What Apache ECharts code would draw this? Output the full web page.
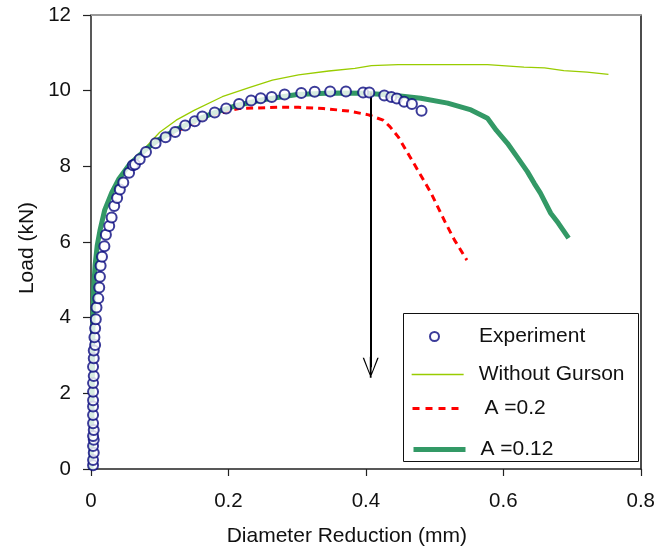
<!DOCTYPE html>
<html>
<head>
<meta charset="utf-8">
<script src="https://cdn.jsdelivr.net/npm/echarts@6/dist/echarts.min.js"></script>
<style>html,body{margin:0;padding:0;background:#fff}#c{width:658px;height:553px}</style>
</head>
<body>
<div id="c"></div>
<script>
// ---- data ----
const xTicks = [0, 0.2, 0.4, 0.6, 0.8];
const yTicks = [0, 2, 4, 6, 8, 10, 12];

const expX = [0.003,0.003,0.004,0.003,0.004,0.003,0.004,0.003,0.003,0.003,0.003,0.003,0.003,0.004,0.003,0.004,0.004,0.006,0.005,0.006,0.007,0.008,0.0106,0.012,0.013,0.014,0.016,0.0195,0.0217,0.0265,0.030,0.0338,0.038,0.042,0.047,0.0554,0.061,0.064,0.0709,0.080,0.094,0.1085,0.1225,0.137,0.151,0.162,0.180,0.1967,0.2155,0.233,0.247,0.263,0.2817,0.306,0.3255,0.348,0.371,0.396,0.405,0.4268,0.437,0.445,0.4557,0.467,0.481];
const expY = [0.10,0.24,0.43,0.61,0.77,0.87,1.03,1.21,1.43,1.65,1.82,2.04,2.27,2.46,2.70,2.93,3.13,3.28,3.48,3.72,3.96,4.27,4.51,4.80,5.08,5.37,5.61,5.89,6.19,6.42,6.65,6.95,7.16,7.39,7.57,7.83,8.03,8.05,8.19,8.38,8.61,8.77,8.91,9.08,9.19,9.32,9.42,9.53,9.65,9.74,9.80,9.83,9.90,9.94,9.97,9.98,9.98,9.95,9.95,9.87,9.83,9.79,9.71,9.65,9.47];

const noGursonX = [0,0.001,0.002,0.003,0.004,0.006,0.009,0.013,0.020,0.030,0.040,0.056,0.070,0.100,0.124,0.150,0.191,0.230,0.264,0.302,0.346,0.384,0.408,0.447,0.500,0.577,0.630,0.660,0.688,0.722,0.753];
const noGursonY = [0,1,2.5,4,4.8,5.4,5.9,6.3,6.85,7.3,7.65,8.05,8.32,8.9,9.22,9.48,9.84,10.08,10.28,10.42,10.52,10.59,10.66,10.69,10.69,10.69,10.62,10.6,10.53,10.49,10.43];

const a02X = [0,0.001,0.002,0.003,0.004,0.006,0.009,0.013,0.020,0.030,0.040,0.056,0.080,0.100,0.129,0.150,0.177,0.2155,0.273,0.302,0.338,0.375,0.404,0.425,0.435,0.447,0.471,0.495,0.515,0.529,0.547];
const a02Y = [0,1,2.5,4,4.8,5.4,5.9,6.3,6.85,7.3,7.65,8.05,8.45,8.7,8.96,9.15,9.36,9.53,9.56,9.56,9.53,9.46,9.36,9.22,9.05,8.78,8.04,7.29,6.54,6.05,5.52];

const a012X = [0,0.001,0.002,0.003,0.004,0.006,0.009,0.013,0.020,0.030,0.040,0.056,0.080,0.100,0.125,0.150,0.180,0.210,0.250,0.300,0.350,0.400,0.440,0.480,0.519,0.553,0.577,0.590,0.606,0.620,0.635,0.645,0.654,0.669,0.680,0.695];
const a012Y = [0,1,2.5,4,4.8,5.4,5.9,6.3,6.85,7.3,7.65,8.05,8.45,8.72,8.98,9.2,9.42,9.6,9.76,9.9,9.94,9.93,9.88,9.8,9.67,9.49,9.27,8.95,8.61,8.25,7.86,7.55,7.29,6.76,6.5,6.1];

const arrowX = 0.407;
const arrowY = [9.95, 2.69];

const names = ['Experiment', 'Without Gurson', 'A =0.2', 'A =0.12'];

// ---- chart ----
const zip = (xs, ys) => xs.map((x, i) => [x, ys[i]]);
const FONT = 'Liberation Sans, Arial, sans-serif';
const chart = echarts.init(document.getElementById('c'), null, {renderer: 'canvas'});

const hidden = {color: 'rgba(0,0,0,0)', borderColor: 'rgba(0,0,0,0)', borderWidth: 0, opacity: 0};
const txt = (pad, lh) => ({fontFamily: FONT, fontSize: 21, color: '#111', lineHeight: lh, padding: [0, 0, 0, pad]});

chart.setOption({
  animation: false,
  backgroundColor: '#fff',
  grid: {left: 91, right: 14, top: 15, bottom: 84, containLabel: false},
  xAxis: [{
    type: 'value', min: 0, max: 0.8, interval: 0.2,
    axisLine: {show: true, onZero: false, lineStyle: {color: '#222', width: 1.5}},
    axisTick: {show: true, inside: false, length: 7, lineStyle: {color: '#222', width: 1.2}},
    splitLine: {show: false},
    axisLabel: {margin: 22, fontFamily: FONT, fontSize: 20.5, color: '#111',
      formatter: v => String(xTicks.find(t => Math.abs(t - v) < 1e-9) ?? v)},
    name: 'Diameter Reduction (mm)', nameLocation: 'middle', nameGap: 57,
    nameTextStyle: {fontFamily: FONT, fontSize: 21, color: '#111', padding: [0, 38, 0, 0]}
  }, {
    type: 'value', min: 0, max: 0.8, position: 'top',
    axisLine: {show: true, onZero: false, lineStyle: {color: '#999', width: 2}},
    axisTick: {show: false}, axisLabel: {show: false}, splitLine: {show: false}
  }],
  yAxis: [{
    type: 'value', min: 0, max: 12, interval: 2,
    axisLine: {show: true, onZero: false, lineStyle: {color: '#222', width: 1.5}},
    axisTick: {show: true, inside: false, length: 8, lineStyle: {color: '#222', width: 1.2}},
    splitLine: {show: false},
    axisLabel: {margin: 20, fontFamily: FONT, fontSize: 20.5, color: '#111',
      formatter: v => String(yTicks.find(t => Math.abs(t - v) < 1e-9) ?? v)},
    name: 'Load (kN)', nameLocation: 'middle', nameGap: 51, nameRotate: 90,
    nameTextStyle: {fontFamily: FONT, fontSize: 21, color: '#111', padding: [0, 12, 0, 0]}
  }, {
    type: 'value', min: 0, max: 12, position: 'right',
    axisLine: {show: true, onZero: false, lineStyle: {color: '#111', width: 1.5}},
    axisTick: {show: false}, axisLabel: {show: false}, splitLine: {show: false}
  }],
  graphic: [{
    type: 'rect', left: 403, top: 313, z: 1,
    shape: {width: 235, height: 148},
    style: {fill: '#fff', stroke: '#111', lineWidth: 1}
  }],
  legend: [
    {data: [names[0]], left: 429, top: 326, padding: 0, itemWidth: 9, itemHeight: 9,
      textStyle: txt(35, 9)},
    {data: [names[1]], left: 411, top: 364, padding: 0, itemWidth: 52, itemHeight: 14,
      itemStyle: hidden, lineStyle: {width: 1.3, color: '#99cc00'}, textStyle: txt(10, 14)},
    {data: [names[2]], left: 411, top: 398, padding: 0, itemWidth: 52, itemHeight: 14,
      itemStyle: hidden, lineStyle: {width: 3, color: '#ff0000', type: [7, 6]}, textStyle: txt(15, 14)},
    {data: [names[3]], left: 411, top: 439, padding: 0, itemWidth: 52, itemHeight: 14,
      itemStyle: hidden, lineStyle: {width: 5, color: '#339966'}, textStyle: txt(10, 14)}
  ],
  series: [
    {
      name: names[1], type: 'line', data: zip(noGursonX, noGursonY), showSymbol: false, symbol: 'none',
      lineStyle: {color: '#99cc00', width: 1.3}, itemStyle: {color: '#99cc00'}, z: 2
    },
    {
      name: names[2], type: 'line', data: zip(a02X, a02Y), showSymbol: false, symbol: 'none',
      lineStyle: {color: '#ff0000', width: 3, type: [7, 5]}, itemStyle: {color: '#ff0000'}, z: 3
    },
    {
      name: names[3], type: 'line', data: zip(a012X, a012Y), showSymbol: false, symbol: 'none',
      lineStyle: {color: '#339966', width: 5}, itemStyle: {color: '#339966'}, z: 4
    },
    {
      name: names[0], type: 'scatter', data: zip(expX, expY), symbol: 'emptyCircle', symbolSize: 10,
      itemStyle: {color: '#0a0a80', borderColor: '#0a0a80', borderWidth: 1.5}, z: 5
    },
    {
      name: 'arrow', type: 'line', data: [], z: 6,
      markLine: {
        silent: true, animation: false,
        symbol: ['none', 'path://M0,20 L8,0 L16,20 L14.6,20 L8,2.4 L1.4,20 Z M7.1,0 L8.9,0 L8.9,21 L7.1,21 Z'],
        symbolSize: [16, 21],
        label: {show: false},
        lineStyle: {color: '#000', width: 2, type: 'solid'},
        data: [[{coord: [arrowX, arrowY[0]]}, {coord: [arrowX, arrowY[1]]}]]
      }
    }
  ]
});
</script>
</body>
</html>
